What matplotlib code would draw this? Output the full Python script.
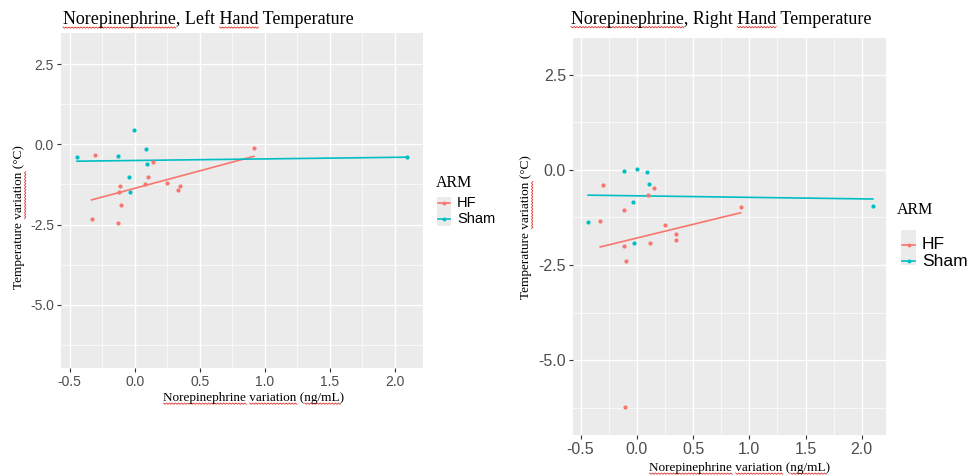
import numpy as np
import matplotlib
matplotlib.use("Agg")
from matplotlib import pyplot as plt
from matplotlib.lines import Line2D
from matplotlib.patches import Rectangle

# data
hf_x_left = [-0.331, -0.308, -0.128, -0.121, -0.110, -0.105, 0.079, 0.105, 0.141, 0.246, 0.333, 0.346, 0.915]
hf_y_left = [-2.34, -0.32, -2.46, -1.50, -1.29, -1.89, -1.24, -1.03, -0.54, -1.20, -1.43, -1.29, -0.125]
sham_x_left = [-0.444, -0.126, -0.046, -0.036, -0.005, 0.085, 0.095, 2.092]
sham_y_left = [-0.40, -0.35, -1.03, -1.48, 0.45, -0.135, -0.60, -0.40]

hf_x_right = [-0.325, -0.298, -0.117, -0.112, -0.103, -0.097, 0.096, 0.114, 0.152, 0.253, 0.345, 0.351, 0.923]
hf_y_right = [-1.33, -0.40, -2.01, -1.04, -6.24, -2.40, -0.65, -1.91, -0.48, -1.46, -1.85, -1.68, -0.98]
sham_x_right = [-0.432, -0.114, -0.031, -0.025, 0.004, 0.093, 0.111, 2.098]
sham_y_right = [-1.38, -0.04, -0.84, -1.91, 0.03, -0.06, -0.37, -0.94]

groups = ["HF", "Sham"]
colors = ["#F8766D", "#00BFC4"]
x_ticks = [-0.5, 0.0, 0.5, 1.0, 1.5, 2.0]
y_ticks = [-5.0, -2.5, 0.0, 2.5]

W, H = 971, 476
fig = plt.figure(figsize=(W / 100, H / 100), dpi=100)
fig.patch.set_facecolor("white")

serif = "Liberation Serif"
sans = "Liberation Sans"


def fx(px):
    return px / W


def fy(py):
    return 1 - py / H


def panel(box, xs, ys, tick_size):
    l, t, r, b = box
    ax = fig.add_axes([fx(l), fy(b), fx(r) - fx(l), fy(t) - fy(b)])
    ax.set_facecolor("#EBEBEB")
    for s in ax.spines.values():
        s.set_visible(False)
    ax.set_xlim(-0.567, 2.215)
    ax.set_ylim(-6.97, 3.47)
    ax.set_xticks(x_ticks)
    ax.set_xticklabels(["%.1f" % v for v in x_ticks])
    ax.set_yticks(y_ticks)
    ax.set_yticklabels(["%.1f" % v for v in y_ticks])
    ax.set_xticks([-0.25, 0.25, 0.75, 1.25, 1.75], minor=True)
    ax.set_yticks([-6.25, -3.75, -1.25, 1.25], minor=True)
    ax.grid(True, which="major", color="white", lw=1.0)
    ax.grid(True, which="minor", color="white", lw=0.5)
    ax.set_axisbelow(True)
    ax.tick_params(which="major", length=3, width=0.8, color="#333333",
                   labelsize=tick_size, labelcolor="#4D4D4D", pad=2)
    ax.tick_params(which="minor", length=0)
    for lab in ax.get_xticklabels() + ax.get_yticklabels():
        lab.set_fontfamily(sans)
    for (x, y), c in zip(zip(xs, ys), colors):
        x = np.array(x)
        y = np.array(y)
        ax.scatter(x, y, s=9, color=c, zorder=3, linewidths=0)
        k, m = np.polyfit(x, y, 1)  # lm line like geom_smooth
        xl = np.array([x.min(), x.max()])
        ax.plot(xl, k * xl + m, color=c, lw=1.2, zorder=2)
    return ax


def legend(tx, ty, key_box, rows, size):
    fig.text(fx(tx), fy(ty), "ARM", family=serif, fontsize=11.5, va="center", ha="left")
    l, t, r, b = key_box
    fig.patches.append(Rectangle((fx(l), fy(b)), fx(r) - fx(l), fy(t) - fy(b),
                                 transform=fig.transFigure, facecolor="#EBEBEB", edgecolor="none"))
    for (lab, c, y) in rows:
        fig.lines.append(Line2D([fx(l + 1), fx(r - 1)], [fy(y), fy(y)], transform=fig.transFigure,
                                color=c, lw=1.2))
        fig.lines.append(Line2D([fx((l + r) / 2)], [fy(y)], transform=fig.transFigure,
                                color=c, marker="o", markersize=2.8, markeredgewidth=0))
        fig.text(fx(r + 6), fy(y), lab, family=sans, fontsize=size, va="center", ha="left")


# spell-check squiggles under some words, like in the screenshot
def squiggle(t, words, rotated=False):
    r = fig.canvas.get_renderer()
    bb = t.get_window_extent(r)
    prop = t.get_fontproperties()
    s = t.get_text()
    for w in words:
        i = s.index(w)
        end = r.get_text_width_height_descent(s[:i + len(w)], prop, ismath=False)[0]
        wid = r.get_text_width_height_descent(w, prop, ismath=False)[0]
        n = max(int(wid / 1.5), 2)
        u = np.linspace(end - wid, end, n + 1)
        v = np.where(np.arange(n + 1) % 2 == 0, 0.0, 1.3)
        if rotated:
            px = bb.x1 - 0.5 + v
            py = bb.y0 + u
        else:
            px = bb.x0 + u
            py = bb.y0 + 1.0 - v
        fig.lines.append(Line2D(px / W, py / H, transform=fig.transFigure,
                                color="#E0302A", lw=0.6))


# left panel
panel((61, 33, 423, 368), [hf_x_left, sham_x_left], [hf_y_left, sham_y_left], 10)
t1 = fig.text(fx(63), fy(19), "Norepinephrine, Left Hand Temperature", family=serif,
              fontsize=13, va="center", ha="left")
y1 = fig.text(fx(19), fy(217), "Temperature variation (°C)", family=serif, fontsize=9.5,
              rotation=90, va="center", ha="center")
x1 = fig.text(fx(254), fy(398), "Norepinephrine variation (ng/mL)", family=serif, fontsize=9.5,
              va="center", ha="center")
legend(436, 183, (437, 197, 451, 226), [("HF", colors[0], 203), ("Sham", colors[1], 219)], 10.5)

# right panel
panel((573, 38, 886, 435), [hf_x_right, sham_x_right], [hf_y_right, sham_y_right], 11.5)
t2 = fig.text(fx(571), fy(19), "Norepinephrine, Right Hand Temperature", family=serif,
              fontsize=13, va="center", ha="left")
y2 = fig.text(fx(526), fy(227), "Temperature variation (°C)", family=serif, fontsize=9.5,
              rotation=90, va="center", ha="center")
x2 = fig.text(fx(740), fy(468), "Norepinephrine variation (ng/mL)", family=serif, fontsize=9.5,
              va="center", ha="center")
legend(897, 210, (901, 230, 916, 265), [("HF", colors[0], 245), ("Sham", colors[1], 261)], 12.5)

fig.canvas.draw()
for t in (t1, t2):
    squiggle(t, ["Norepinephrine", "Hand"])
for t in (x1, x2):
    squiggle(t, ["Norepinephrine", "variation", "ng/mL"])
for t in (y1, y2):
    squiggle(t, ["variation"], rotated=True)

fig.savefig("out.png", dpi=100)
